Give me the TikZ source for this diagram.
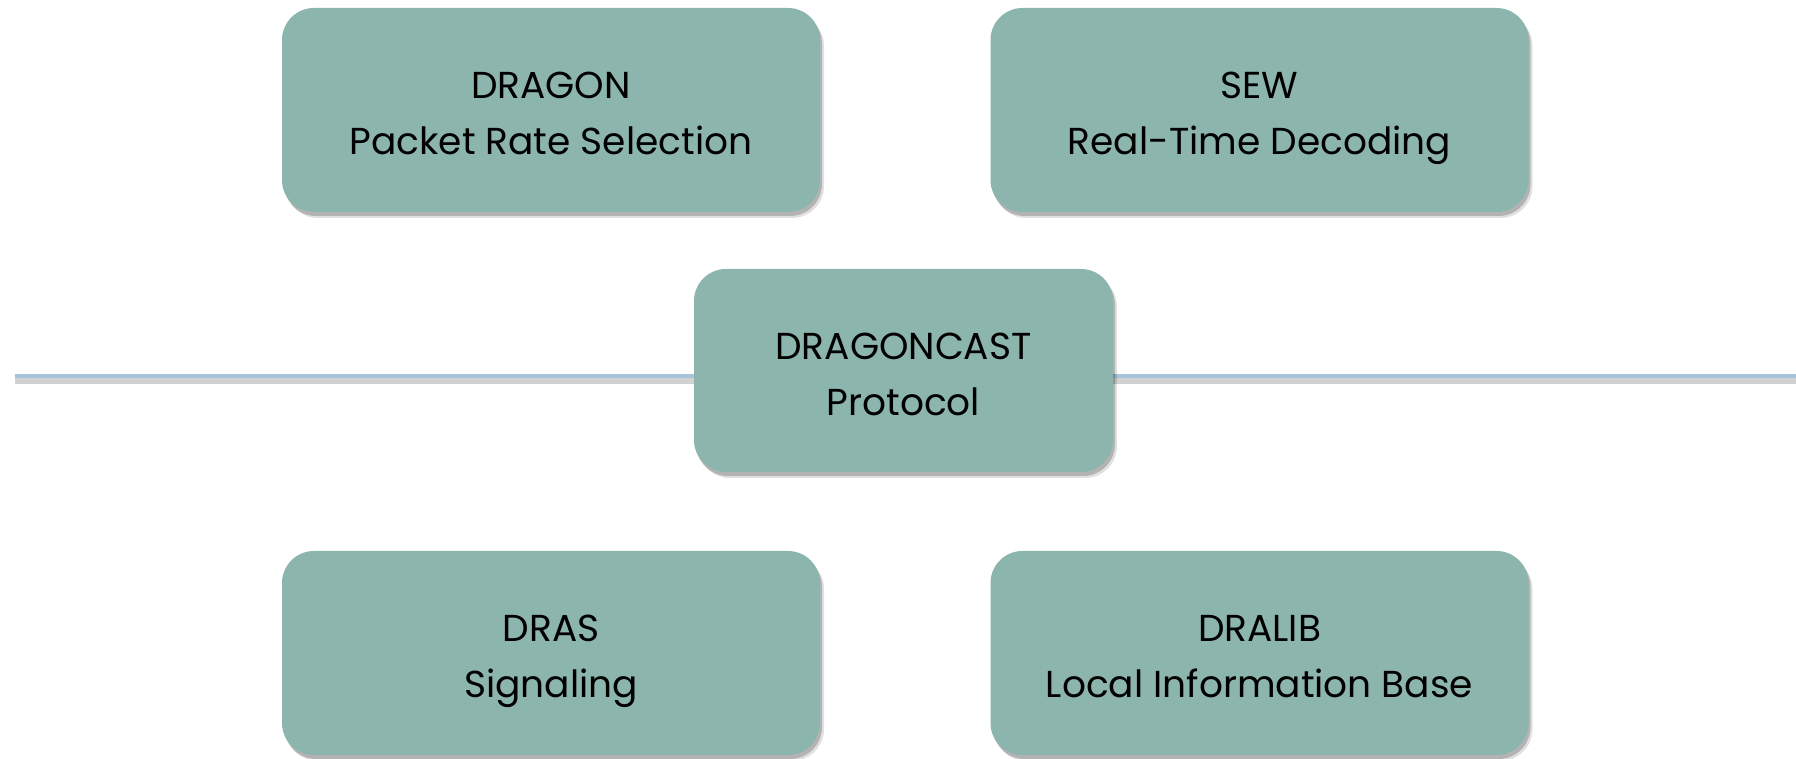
\documentclass[tikz,border=0pt]{standalone}
\usepackage{fontspec}
\setmainfont{Poppins}
\usetikzlibrary{shadows}
\definecolor{boxfill}{HTML}{8BB5AD}
\definecolor{lineblue}{HTML}{A7C4DA}
\newcommand{\topline}{\rule{0pt}{50.5pt}}
\tikzset{
  card/.style={rectangle, rounded corners=32pt, fill=boxfill, draw=none,
    minimum width=538pt, minimum height=204pt, align=center, text=black,
    font=\fontsize{37.5}{56}\selectfont,
    general shadow={shadow xshift=4pt, shadow yshift=-6pt, fill=black, opacity=0.12},
    general shadow={shadow xshift=2pt, shadow yshift=-4pt, fill=black, opacity=0.2}},
  timeline/.style={draw=lineblue, line width=3.5pt},
  timeshadow/.style={draw=black!18, line width=7pt}
}
\begin{document}
\begin{tikzpicture}[x=1pt,y=1pt]
\useasboundingbox (0,0) rectangle (1796,759);
\coordinate (L) at (15,383);
\coordinate (R) at (1796,383);
\coordinate (Ls) at (15,378);
\coordinate (Rs) at (1796,378);
\draw[timeshadow] (Ls) -- (Rs);
\draw[timeline] (L) -- (R);
\node[card] (dragon) at (551,649) {\topline DRAGON\\\strut Packet Rate Selection};
\node[card] (sew) at (1259.5,649) {\topline SEW\\\strut Real-Time Decoding};
\node[card, minimum width=419pt, minimum height=203pt] (cast) at (903.5,388.5) {\topline DRAGONCAST\\\strut Protocol};
\node[card] (dras) at (551,106) {\topline DRAS\\\strut Signaling};
\node[card] (dralib) at (1259.5,106) {\topline DRALIB\\\strut Local Information Base};
\end{tikzpicture}
\end{document}
